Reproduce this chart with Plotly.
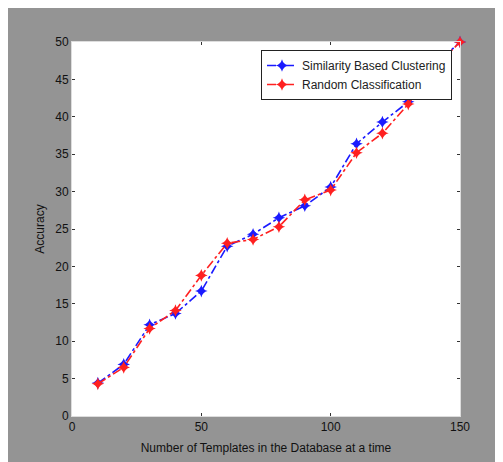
import plotly.graph_objects as go

templates = [10, 20, 30, 40, 50, 60, 70, 80, 90, 100, 110, 120, 130, 140, 150]
similarity = [4.4, 6.9, 12.2, 13.7, 16.7, 22.7, 24.3, 26.5, 28.1, 30.6, 36.4, 39.3, 42.0, 46.8, 50.0]
random_cls = [4.3, 6.5, 11.7, 14.1, 18.8, 23.1, 23.6, 25.3, 28.9, 30.2, 35.2, 37.8, 41.7, 46.5, 50.0]
x_ticks = [0, 50, 100, 150]
y_ticks = [0, 5, 10, 15, 20, 25, 30, 35, 40, 45, 50]

W, H = 503, 462
L, R, T, B = 64, 452, 34, 408
pw, ph = R - L, B - T

FONT = "Liberation Sans, Arial, sans-serif"

fig = go.Figure()
fig.add_trace(go.Scatter(
    x=templates, y=similarity, name="Similarity Based Clustering",
    mode="lines+markers",
    line=dict(color="#1a1aff", width=1.6, dash="dashdot"),
    marker=dict(symbol="star-diamond", size=9, color="#1a1aff"),
    cliponaxis=False,
))
fig.add_trace(go.Scatter(
    x=templates, y=random_cls, name="Random Classification",
    mode="lines+markers",
    line=dict(color="#ff2020", width=1.6, dash="dashdot"),
    marker=dict(symbol="star-diamond", size=9, color="#ff2020"),
    cliponaxis=False,
))

fig.update_layout(
    width=W, height=H,
    margin=dict(l=L, r=W - R, t=T, b=H - B),
    paper_bgcolor="#949494",
    plot_bgcolor="white",
    font=dict(family=FONT, size=12, color="#111111"),
    showlegend=True,
    legend=dict(
        x=(444 - L) / pw, xanchor="right",
        y=1 - (42 - T) / ph, yanchor="top",
        bgcolor="white", bordercolor="#222222", borderwidth=1,
        font=dict(family=FONT, size=12, color="#222222"),
        tracegroupgap=2,
    ),
    xaxis=dict(
        range=[0, 150], tickvals=x_ticks, ticks="inside", ticklen=3,
        tickcolor="#333333", mirror="ticks", showline=True, linecolor="#dddddd",
        showgrid=False, zeroline=False, automargin=False,
        title=dict(text="Number of Templates in the Database at a time",
                   font=dict(size=12), standoff=10),
        tickfont=dict(size=12),
    ),
    yaxis=dict(
        range=[0, 50], tickvals=y_ticks, ticks="inside", ticklen=3,
        tickcolor="#333333", mirror="ticks", showline=True, linecolor="#dddddd",
        showgrid=False, zeroline=False, automargin=False,
        title=dict(text="Accuracy", font=dict(size=12), standoff=8),
        tickfont=dict(size=12),
    ),
)

fig.write_html("out.html")
